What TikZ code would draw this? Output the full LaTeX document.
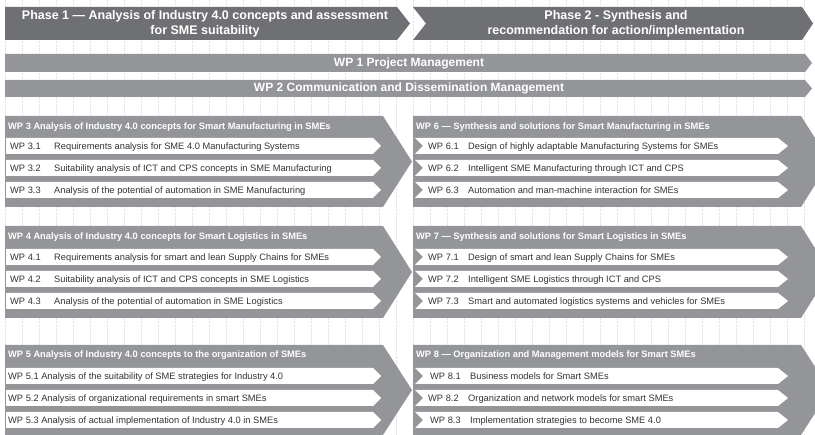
\documentclass[tikz,border=0pt]{standalone}
\usepackage{fontspec}
\setmainfont{Liberation Sans}
\definecolor{phasegray}{HTML}{6F7073}
\definecolor{wpgray}{HTML}{939598}
\definecolor{itemgray}{HTML}{333333}

\begin{document}
\begin{tikzpicture}
  [x=1pt, y=-1pt,
   phase/.style={fill=phasegray},
   band/.style={fill=wpgray},
   block/.style={fill=wpgray},
   row/.style={fill=white},
   gridline/.style={gray!20, densely dotted, line width=0.4pt},
   title/.style={text=white, align=center, inner sep=0,
     font=\bfseries\fontsize{12.5}{15}\selectfont},
   bandtext/.style={text=white, inner sep=0, font=\bfseries\fontsize{12}{14}\selectfont},
   head/.style={text=white, anchor=west, inner sep=0, text height=6.5pt, text depth=0pt,
     font=\bfseries\fontsize{9.3}{11}\selectfont},
   item/.style={text=itemgray, anchor=west, inner sep=0, text height=6.6pt, text depth=0pt,
     font=\fontsize{9.3}{11}\selectfont}]
  \useasboundingbox (0,0) rectangle (815,435);
  \clip (0,0) rectangle (815,435);
  \foreach \x in {5,22,...,805}
    \draw[gridline] (\x,0) -- (\x,435);

  % phases
  \fill[phase] (5,7) -- (397,7) -- (410,23.5) -- (397,40) -- (5,40) -- cycle;
  \fill[phase] (413,7) -- (802,7) -- (813,23.5) -- (802,40) -- (413,40) -- (426,23.5) -- cycle;
  \node[title] (phase1) at (205,23.5) {Phase 1 --- Analysis of Industry 4.0 concepts and assessment\\for SME suitability};
  \node[title] (phase2) at (616,23.5) {Phase 2 - Synthesis and\\recommendation for action/implementation};

  % WP 1 and WP 2
  \fill[band] (5,54) -- (805,54) -- (812,63) -- (805,72) -- (5,72) -- cycle;
  \fill[band] (5,80) -- (805,80) -- (812,88.5) -- (805,97) -- (5,97) -- cycle;
  \node[bandtext] (wp1) at (409,63) {WP 1 Project Management};
  \node[bandtext] (wp2) at (409,88.5) {WP 2 Communication and Dissemination Management};

  % work packages
  \fill[block] (5,116) -- (383,116) -- (412,161.5) -- (383,207) -- (5,207) -- cycle;
  \fill[block] (5,226) -- (383,226) -- (412,272) -- (383,318) -- (5,318) -- cycle;
  \fill[block] (5,345) -- (383,345) -- (412,390) -- (383,435) -- (5,435) -- cycle;
  \fill[block] (413,116) -- (801,116) -- (830,161.5) -- (801,207) -- (413,207) -- cycle;
  \fill[block] (413,226) -- (801,226) -- (830,272) -- (801,318) -- (413,318) -- cycle;
  \fill[block] (413,345) -- (801,345) -- (830,390) -- (801,435) -- (413,435) -- cycle;
  \foreach \y in {138,160,182,249,271,293,368,390,412} {
    \fill[row] (6,\y) -- (373,\y) -- (381,\y+8) -- (373,\y+16) -- (6,\y+16) -- cycle;
    \fill[row] (415,\y) -- (778,\y) -- (788,\y+8) -- (778,\y+16) -- (415,\y+16) -- (423,\y+8) -- cycle;
  }

  \node[head] (wp3) at (8,126.5) {WP 3 Analysis of Industry 4.0 concepts for Smart Manufacturing in SMEs};
  \node[item] (wp31) at (10,146) {\makebox[44pt][l]{WP 3.1}Requirements analysis for SME 4.0 Manufacturing Systems};
  \node[item] (wp32) at (10,168) {\makebox[44pt][l]{WP 3.2}Suitability analysis of ICT and CPS concepts in SME Manufacturing};
  \node[item] (wp33) at (10,190) {\makebox[44pt][l]{WP 3.3}Analysis of the potential of automation in SME Manufacturing};

  \node[head] (wp4) at (8,236.5) {WP 4 Analysis of Industry 4.0 concepts for Smart Logistics in SMEs};
  \node[item] (wp41) at (10,257) {\makebox[44pt][l]{WP 4.1}Requirements analysis for smart and lean Supply Chains for SMEs};
  \node[item] (wp42) at (10,279) {\makebox[44pt][l]{WP 4.2}Suitability analysis of ICT and CPS concepts in SME Logistics};
  \node[item] (wp43) at (10,301) {\makebox[44pt][l]{WP 4.3}Analysis of the potential of automation in SME Logistics};

  \node[head] (wp5) at (8,354) {WP 5 Analysis of Industry 4.0 concepts to the organization of SMEs};
  \node[item] (wp51) at (8,376) {WP 5.1 Analysis of the suitability of SME strategies for Industry 4.0};
  \node[item] (wp52) at (8,398) {WP 5.2 Analysis of organizational requirements in smart SMEs};
  \node[item] (wp53) at (8,420) {WP 5.3 Analysis of actual implementation of Industry 4.0 in SMEs};

  \node[head] (wp6) at (416,126.5) {WP 6 --- Synthesis and solutions for Smart Manufacturing in SMEs};
  \node[item] (wp61) at (428,146) {\makebox[40pt][l]{WP 6.1}Design of highly adaptable Manufacturing Systems for SMEs};
  \node[item] (wp62) at (428,168) {\makebox[40pt][l]{WP 6.2}Intelligent SME Manufacturing through ICT and CPS};
  \node[item] (wp63) at (428,190) {\makebox[40pt][l]{WP 6.3}Automation and man-machine interaction for SMEs};

  \node[head] (wp7) at (416,236.5) {WP 7 --- Synthesis and solutions for Smart Logistics in SMEs};
  \node[item] (wp71) at (428,257) {\makebox[40pt][l]{WP 7.1}Design of smart and lean Supply Chains for SMEs};
  \node[item] (wp72) at (428,279) {\makebox[40pt][l]{WP 7.2}Intelligent SME Logistics through ICT and CPS};
  \node[item] (wp73) at (428,301) {\makebox[40pt][l]{WP 7.3}Smart and automated logistics systems and vehicles for SMEs};

  \node[head] (wp8) at (416,354) {WP 8 --- Organization and Management models for Smart SMEs};
  \node[item] (wp81) at (430,376) {\makebox[40pt][l]{WP 8.1}Business models for Smart SMEs};
  \node[item] (wp82) at (428,398) {\makebox[40pt][l]{WP 8.2}Organization and network models for smart SMEs};
  \node[item] (wp83) at (430,420) {\makebox[40pt][l]{WP 8.3}Implementation strategies to become SME 4.0};
\end{tikzpicture}
\end{document}
